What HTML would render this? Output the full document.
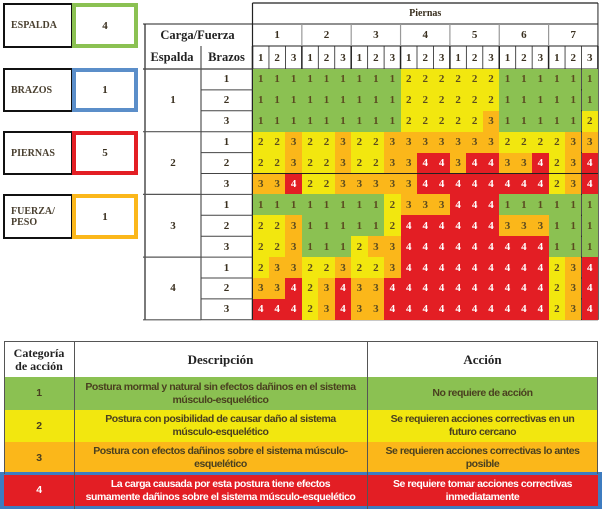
<!DOCTYPE html>
<html><head><meta charset="utf-8">
<style>
*{box-sizing:border-box;margin:0;padding:0}
body{width:602px;height:511px;background:#fff;position:relative;overflow:hidden;font-family:"Liberation Serif",serif;color:#3a3020}
.abs{position:absolute}
.lbl{position:absolute;border:2px solid #111;font:bold 10px "Liberation Serif",serif;color:#4a4030;display:flex;align-items:center;padding-left:6px;line-height:11px}
.val{position:absolute;border:4px solid;background:#fff;font:bold 11px "Liberation Serif",serif;display:flex;align-items:center;justify-content:center;color:#3a3020}
#grid div{position:absolute;display:flex;align-items:center;justify-content:center;font:bold 11px "Liberation Serif",serif}
.bt{position:absolute;display:flex;align-items:center;justify-content:center;text-align:center;font:bold 10.5px "Liberation Sans",sans-serif;line-height:13px;letter-spacing:-0.45px;white-space:nowrap}
</style></head><body>
<div class="lbl" style="left:3px;top:3px;width:70px;height:45px">ESPALDA</div>
<div class="val" style="left:72px;top:3px;width:66px;height:45px;border-color:#8bc152">4</div>
<div class="lbl" style="left:3px;top:68px;width:70px;height:44px">BRAZOS</div>
<div class="val" style="left:72px;top:68px;width:66px;height:44px;border-color:#5b8ec9">1</div>
<div class="lbl" style="left:3px;top:131px;width:70px;height:44px">PIERNAS</div>
<div class="val" style="left:72px;top:131px;width:66px;height:44px;border-color:#e31e24">5</div>
<div class="lbl" style="left:3px;top:194px;width:70px;height:45px">FUERZA/<br>PESO</div>
<div class="val" style="left:72px;top:194px;width:66px;height:45px;border-color:#fbb71a">1</div>

<svg id="gsvg" class="abs" style="left:0;top:0" width="602" height="330"></svg>
<div id="grid" class="abs" style="left:0;top:0;width:602px;height:330px"></div>

<div class="abs" style="left:4px;top:341px;width:594px;height:133px;border-top:1px solid #555"></div>
<div class="abs" style="left:4px;top:377px;width:594px;height:33px;background:#8bc152"></div>
<div class="abs" style="left:4px;top:410px;width:594px;height:32px;background:#f2e70f"></div>
<div class="abs" style="left:4px;top:442px;width:594px;height:32px;background:#fbb71a"></div>
<div class="abs" style="left:0px;top:472px;width:602px;height:37px;background:#3e7cc0"></div>
<div class="abs" style="left:4px;top:475px;width:594px;height:31px;background:#e31e24"></div>
<div class="abs" style="left:74px;top:341px;width:1px;height:168px;background:#555"></div>
<div class="abs" style="left:367px;top:341px;width:1px;height:168px;background:#555"></div>
<div class="abs" style="left:4px;top:341px;width:1px;height:133px;background:#555"></div>
<div class="abs" style="left:597px;top:341px;width:1px;height:133px;background:#555"></div>

<div class="bt" style="left:4px;top:342px;width:70px;height:35px;font:bold 12px 'Liberation Serif',serif;line-height:13px;letter-spacing:0;color:#222">Categoría<br>de acción</div>
<div class="bt" style="left:74px;top:342px;width:293px;height:35px;font:bold 13px 'Liberation Serif',serif;letter-spacing:0;color:#222">Descripción</div>
<div class="bt" style="left:367px;top:342px;width:231px;height:35px;font:bold 13px 'Liberation Serif',serif;letter-spacing:0;color:#222">Acción</div>

<div class="bt" style="left:4px;top:377px;width:70px;height:33px;color:#4a4020">1</div>
<div class="bt" style="left:74px;top:377px;width:293px;height:33px;color:#4a4020">Postura mormal y natural sin efectos dañinos en el sistema<br>músculo-esquelético</div>
<div class="bt" style="left:367px;top:377px;width:231px;height:33px;color:#4a4020">No requiere de acción</div>
<div class="bt" style="left:4px;top:410px;width:70px;height:32px;color:#4a4020">2</div>
<div class="bt" style="left:74px;top:410px;width:293px;height:32px;color:#4a4020">Postura con posibilidad de causar daño al sistema<br>músculo-esquelético</div>
<div class="bt" style="left:367px;top:410px;width:231px;height:32px;color:#4a4020">Se requieren acciones correctivas en un<br>futuro cercano</div>
<div class="bt" style="left:4px;top:442px;width:70px;height:32px;color:#4a4020">3</div>
<div class="bt" style="left:74px;top:442px;width:293px;height:32px;color:#4a4020">Postura con efectos dañinos sobre el sistema músculo-<br>esquelético</div>
<div class="bt" style="left:367px;top:442px;width:231px;height:32px;color:#4a4020">Se requieren acciones correctivas lo antes<br>posible</div>
<div class="bt" style="left:4px;top:475px;width:70px;height:31px;color:#fff">4</div>
<div class="bt" style="left:74px;top:475px;width:293px;height:31px;color:#fff">La carga causada por esta postura tiene efectos<br>sumamente dañinos sobre el sistema músculo-esquelético</div>
<div class="bt" style="left:367px;top:475px;width:231px;height:31px;color:#fff">Se requiere tomar acciones correctivas<br>inmediatamente</div>

<script>
const piernasLabels=[1,2,3,4,5,6,7];
const cargaLabels=[1,2,3];
const espaldaLabels=[1,2,3,4];
const brazosLabels=[1,2,3];
const gridValues=[
[1,1,1,1,1,1,1,1,1,2,2,2,2,2,2,1,1,1,1,1,1],
[1,1,1,1,1,1,1,1,1,2,2,2,2,2,2,1,1,1,1,1,1],
[1,1,1,1,1,1,1,1,1,2,2,2,2,2,3,1,1,1,1,1,2],
[2,2,3,2,2,3,2,2,3,3,3,3,3,3,3,2,2,2,2,3,3],
[2,2,3,2,2,3,2,2,3,3,4,4,3,4,4,3,3,4,2,3,4],
[3,3,4,2,2,3,3,3,3,3,4,4,4,4,4,4,4,4,2,3,4],
[1,1,1,1,1,1,1,1,2,3,3,3,4,4,4,1,1,1,1,1,1],
[2,2,3,1,1,1,1,1,2,4,4,4,4,4,4,3,3,3,1,1,1],
[2,2,3,1,1,1,2,3,3,4,4,4,4,4,4,4,4,4,1,1,1],
[2,3,3,2,2,3,2,2,3,4,4,4,4,4,4,4,4,4,2,3,4],
[3,3,4,2,3,4,3,3,4,4,4,4,4,4,4,4,4,4,2,3,4],
[4,4,4,2,3,4,3,3,4,4,4,4,4,4,4,4,4,4,2,3,4]
];
const catColors={1:'#8bc152',2:'#f2e70f',3:'#fbb71a',4:'#e31e24'};
const X0=252.5,CW=16.45,Y0=69,RH=20.9;
const colX=c=>X0+c*CW, rowY=r=>Y0+r*RH;
const g=document.getElementById('grid'), s=document.getElementById('gsvg');
const NS='http://www.w3.org/2000/svg';
function line(x1,y1,x2,y2,w,col){const l=document.createElementNS(NS,'line');l.setAttribute('x1',x1);l.setAttribute('y1',y1);l.setAttribute('x2',x2);l.setAttribute('y2',y2);l.setAttribute('stroke',col||'#222');l.setAttribute('stroke-width',w||1);s.appendChild(l);}
function txt(x,y,w,h,t,name,extra){const d=document.createElement('div');d.style.left=x+'px';d.style.top=y+'px';d.style.width=w+'px';d.style.height=h+'px';d.textContent=t;if(extra)d.style.cssText+=extra;


g.appendChild(d);return d;}
const nC=gridValues[0].length,nR=gridValues.length;
gridValues.forEach((row,r)=>row.forEach((v,c)=>{
 const d=txt(colX(c),rowY(r),CW,RH,v,'cell','background:'+catColors[v]+';color:'+(v==4?'#fff':'#5a4a20'));
 
}));
for(let r=0;r<=nR;r++)line(colX(0),rowY(r),colX(nC),rowY(r),1,'#222');
for(let c=0;c<=nC;c++)line(colX(c),46,colX(c),rowY(nR),c%3==0?1.5:0.8,'#222');
txt(colX(0),3,colX(nC)-colX(0),21,'Piernas','header-piernas','font-size:10px');
piernasLabels.forEach((p,i)=>txt(colX(i*3),24,CW*3,22,p,'piernas-'+p,'font-size:11px'));
for(let i=0;i<nC;i++)txt(colX(i),46,CW,23,cargaLabels[i%3],'carga-label','font-size:11px');
txt(143,24,109,22,'Carga/Fuerza','header-carga-fuerza','font-size:12.5px;color:#222');
txt(143,46,58,23,'Espalda','header-espalda','font-size:12.5px;color:#222');
txt(201,46,51,23,'Brazos','header-brazos','font-size:12.5px;color:#222');
espaldaLabels.forEach((e,i)=>txt(145,rowY(i*3),56,RH*3,e,'espalda-'+e,'font-size:11px'));
for(let r=0;r<nR;r++)txt(201,rowY(r),51,RH,brazosLabels[r%3],'brazos-label','font-size:11px');
line(colX(0),3,colX(nC),3,1.2);line(colX(0),3,colX(0),69,1.2);line(colX(nC),3,colX(nC),rowY(nR),1);
line(143,24,colX(nC),24,1);line(colX(0),46,colX(nC),46,1);
line(143,69,colX(0),69,1.2);line(145,24,145,rowY(nR),1.2);
line(201,46,201,rowY(nR),1.5,'#777');
for(let i=0;i<=4;i++)line(143,rowY(i*3),201,rowY(i*3),1.2,'#555');
for(let r=0;r<=nR;r++)line(201,rowY(r),colX(0),rowY(r),1,'#444');
for(let i=1;i<7;i++)line(colX(i*3),24,colX(i*3),46,1.2,'#999');
</script>
</body></html>
